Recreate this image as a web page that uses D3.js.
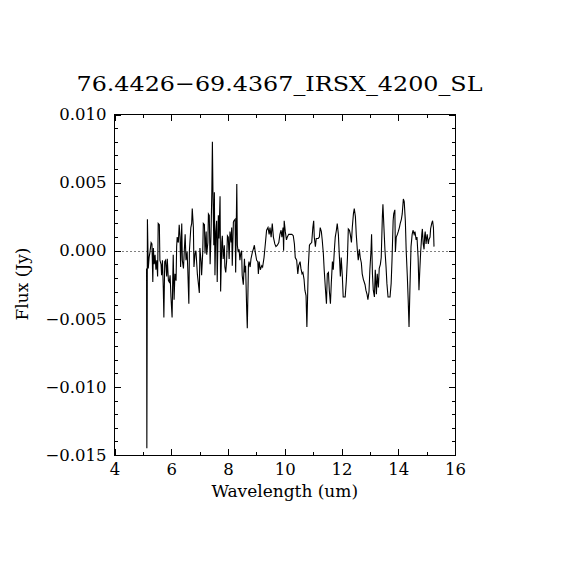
<!DOCTYPE html>
<head>
	<meta charset="utf-8">
	<style>
		body {margin: 0; background: #fff}
		text {font-family: "DejaVu Serif", serif; fill: #000}
	</style>
	<script src="https://d3js.org/d3.v7.min.js" charset="utf-8"></script>
</head>
<body>
	<script>
		// spectrum: wavelength (um) and flux (Jy)
		var wavelength = [
			5.13, 5.14, 5.16, 5.19, 5.22, 5.25, 5.29, 5.32, 5.35, 5.37, 5.40, 5.43, 5.46, 5.49, 5.52, 5.54,
			5.58, 5.60, 5.64, 5.66, 5.69, 5.72, 5.74, 5.77, 5.80, 5.84, 5.86, 5.90, 5.93, 5.96, 5.99, 6.03,
			6.05, 6.07, 6.10, 6.13, 6.17, 6.19, 6.21, 6.25, 6.28, 6.31, 6.33, 6.37, 6.39, 6.43, 6.46, 6.49,
			6.52, 6.56, 6.58, 6.62, 6.64, 6.69, 6.72, 6.74, 6.78, 6.80, 6.84, 6.87, 6.92, 6.95, 6.99,
			7.01, 7.05, 7.07, 7.11, 7.13, 7.17, 7.19, 7.23, 7.25, 7.29, 7.31, 7.34, 7.37, 7.40, 7.43, 7.45,
			7.47, 7.50, 7.52, 7.54, 7.57, 7.60, 7.62, 7.66, 7.68, 7.72, 7.74, 7.78, 7.80, 7.83, 7.87, 7.89,
			7.92, 7.95, 7.98, 8.01, 8.04, 8.07, 8.11, 8.13, 8.15, 8.19, 8.21, 8.25, 8.27, 8.31, 8.33, 8.36,
			8.39, 8.42, 8.45, 8.48, 8.50, 8.54, 8.58, 8.60, 8.62, 8.66, 8.68, 8.72, 8.74, 8.78, 8.81, 8.86,
			8.89, 8.93,
			8.96, 9.01, 9.05, 9.07, 9.10, 9.14, 9.19, 9.22, 9.27, 9.32, 9.36, 9.41, 9.45, 9.48, 9.52, 9.56,
			9.60, 9.65, 9.69, 9.74, 9.79, 9.83, 9.87, 9.90, 9.94, 9.96, 9.98, 10.02, 10.06, 10.09, 10.14, 10.19,
			10.25, 10.30, 10.34, 10.37, 10.42, 10.46, 10.49, 10.54, 10.57, 10.61, 10.64, 10.68, 10.71, 10.75, 10.78, 10.83,
			10.87,
			10.90, 10.95, 10.99, 11.02, 11.04, 11.08, 11.11, 11.15, 11.18, 11.22, 11.25, 11.29, 11.32, 11.36, 11.39, 11.43,
			11.47, 11.50, 11.54, 11.57, 11.61, 11.64, 11.68, 11.71, 11.75, 11.78, 11.82, 11.85, 11.89, 11.92, 11.96, 11.99,
			12.03, 12.06, 12.10, 12.13, 12.17, 12.21, 12.24, 12.28, 12.31, 12.35, 12.38, 12.42, 12.45, 12.49, 12.52, 12.56,
			12.59, 12.63, 12.66, 12.70, 12.73, 12.77, 12.80,
			12.83, 12.86, 12.90, 12.93, 12.97, 13.00, 13.04, 13.06, 13.09, 13.12, 13.16, 13.19, 13.23, 13.26, 13.30, 13.33,
			13.37, 13.40, 13.44, 13.46, 13.50, 13.53, 13.57, 13.60, 13.64, 13.67, 13.71, 13.75, 13.78, 13.82, 13.84, 13.88,
			13.90, 13.93, 13.97, 14.00, 14.04, 14.07, 14.11, 14.14, 14.18, 14.21, 14.25, 14.28, 14.32, 14.35, 14.38, 14.41,
			14.45, 14.49, 14.52, 14.56, 14.59, 14.63, 14.66, 14.70, 14.73,
			14.76, 14.79, 14.83, 14.85, 14.88, 14.91, 14.93, 14.95, 14.98, 15.00, 15.02, 15.06, 15.08, 15.12, 15.14, 15.18,
			15.21, 15.24, 15.26
		];
		var flux = [
			-0.0013, -0.0145, 0.0023, -0.0013, -0.0005, -0.0001, 0.0006, 0.0005, -0.0023, 0.0002, -0.0010, -0.0003, -0.0014, -0.0007, -0.0019, 0.0020,
			0.0019, -0.0007, -0.0010, -0.0018, -0.0007, -0.0028, -0.0049, -0.0008, -0.0007, -0.0019, -0.0006, -0.0022, -0.0023, -0.0018, -0.0034, -0.0049,
			-0.0024, -0.0003, -0.0036, -0.0017, -0.0022, 0.0003, 0.0010, 0.0006, 0.0019, 0.0010, -0.0012, 0.0020, -0.0007, -0.0013, 0.0000, 0.0012,
			-0.0007, -0.0001, -0.0012, -0.0039, 0.0000, 0.0017, 0.0020, 0.0031, 0.0017, -0.0012, -0.0002, 0.0000, -0.0017, -0.0023, -0.0031,
			0.0002, -0.0008, -0.0018, -0.0001, 0.0020, 0.0019, -0.0002, 0.0014, -0.0003, 0.0006, 0.0027, 0.0026, -0.0010, 0.0011, 0.0043, 0.0080,
			0.0042, 0.0004, 0.0043, -0.0018, 0.0014, 0.0022, -0.0023, 0.0026, 0.0009, 0.0040, -0.0030, 0.0006, 0.0011, -0.0006, 0.0004, -0.0012,
			-0.0016, -0.0008, 0.0011, 0.0010, -0.0006, 0.0014, 0.0006, 0.0017, -0.0011, 0.0021, 0.0022, 0.0023, -0.0016, 0.0049, 0.0004, -0.0001,
			0.0001, -0.0007, -0.0002, 0.0000, -0.0018, -0.0025, -0.0006, -0.0016, -0.0011, -0.0044, -0.0057, -0.0011, -0.0008, -0.0012, -0.0006, -0.0001,
			0.0001, 0.0004,
			-0.0001, -0.0007, -0.0008, -0.0017, -0.0008, -0.0014, -0.0011, -0.0012, -0.0005, 0.0006, 0.0015, 0.0017, 0.0012, 0.0017, 0.0010, 0.0020,
			0.0010, 0.0005, 0.0003, 0.0004, 0.0006, 0.0012, 0.0015, 0.0010, 0.0017, 0.0000, 0.0022, 0.0014, 0.0008, 0.0010, 0.0012, 0.0012,
			0.0012, 0.0011, 0.0005, -0.0005, -0.0007, -0.0017, -0.0011, -0.0008, -0.0013, -0.0017, -0.0016, -0.0021, -0.0029, -0.0033, -0.0056, -0.0012,
			0.0004,
			0.0005, 0.0006, 0.0017, 0.0022, 0.0010, 0.0003, 0.0009, 0.0009, 0.0009, 0.0010, 0.0017, 0.0014, 0.0008, -0.0002, -0.0014, -0.0027,
			-0.0039, -0.0017, -0.0016, -0.0029, -0.0039, -0.0024, -0.0008, -0.0014, 0.0001, 0.0010, 0.0015, 0.0020, 0.0012, -0.0002, -0.0019, -0.0005,
			-0.0019, -0.0034, -0.0034, -0.0034, -0.0022, -0.0005, 0.0016, 0.0015, 0.0012, 0.0006, 0.0017, 0.0027, 0.0031, 0.0025, 0.0012, 0.0000,
			-0.0007, 0.0001, -0.0005, -0.0009, -0.0017, -0.0021, -0.0023,
			-0.0025, -0.0029, -0.0032, -0.0036, -0.0030, -0.0014, 0.0000, 0.0012, -0.0017, -0.0029, -0.0034, -0.0014, -0.0032, -0.0017, -0.0027, -0.0013,
			-0.0010, -0.0005, 0.0025, 0.0034, 0.0015, 0.0001, -0.0012, -0.0024, -0.0034, -0.0034, -0.0034, -0.0024, -0.0007, 0.0022, 0.0027, 0.0030,
			-0.0001, 0.0010, 0.0012, 0.0014, 0.0017, 0.0020, 0.0023, 0.0027, 0.0038, 0.0036, 0.0022, 0.0000, -0.0019, -0.0036, -0.0056, -0.0029,
			0.0003, 0.0012, 0.0015, 0.0012, 0.0014, 0.0008, 0.0010, -0.0005, -0.0029,
			-0.0014, -0.0001, 0.0012, 0.0016, 0.0005, 0.0001, 0.0011, 0.0014, 0.0005, 0.0009, 0.0012, 0.0005, 0.0008, 0.0010, 0.0016, 0.0020,
			0.0022, 0.0017, 0.0003
		];

		var xTicks = [4, 6, 8, 10, 12, 14, 16],
			xMinor = [5, 7, 9, 11, 13, 15],
			yTicks = [-0.015, -0.010, -0.005, 0.000, 0.005, 0.010],
			yMinor = [-0.014, -0.013, -0.012, -0.011, -0.009, -0.008, -0.007, -0.006,
				-0.004, -0.003, -0.002, -0.001, 0.001, 0.002, 0.003, 0.004, 0.006, 0.007, 0.008, 0.009];

		var title = "76.4426\u221269.4367_IRSX_4200_SL",
			xLabel = "Wavelength (um)",
			yLabel = "Flux (Jy)";

		// plot box (note: "top" would clash with window.top)
		var box = {left: 114.5, right: 455, top: 114.5, bottom: 455},
			major = 6.5, minor = 3;

		var svg = d3.select("body").append("svg")
			.attr("width", 570)
			.attr("height", 570)
			.style("background", "#fff");

		var x = d3.scaleLinear().domain([4, 16]).range([box.left, box.right]);
		var y = d3.scaleLinear().domain([-0.015, 0.010]).range([box.bottom, box.top]);

		function styleAxis(g) {
			g.select(".domain").remove();
			g.selectAll("line").attr("stroke", "#000").attr("shape-rendering", "crispEdges");
			g.selectAll("text").attr("font-family", "DejaVu Serif").attr("font-size", "16.5px").attr("fill", "#000");
		}

		// bottom axis with labels
		svg.append("g")
			.attr("transform", "translate(0," + box.bottom + ")")
			.call(d3.axisBottom(x).tickValues(xTicks).tickSize(-major).tickPadding(8).tickFormat(d3.format("d")))
			.call(styleAxis);
		svg.append("g")
			.attr("transform", "translate(0," + box.bottom + ")")
			.call(d3.axisBottom(x).tickValues(xMinor).tickSize(-minor).tickFormat(""))
			.call(styleAxis);
		// top
		svg.append("g")
			.attr("transform", "translate(0," + box.top + ")")
			.call(d3.axisTop(x).tickValues(xTicks).tickSize(-major).tickFormat(""))
			.call(styleAxis);
		svg.append("g")
			.attr("transform", "translate(0," + box.top + ")")
			.call(d3.axisTop(x).tickValues(xMinor).tickSize(-minor).tickFormat(""))
			.call(styleAxis);
		// left with labels
		svg.append("g")
			.attr("transform", "translate(" + box.left + ",0)")
			.call(d3.axisLeft(y).tickValues(yTicks).tickSize(-major).tickPadding(8).tickFormat(d3.format(".3f")))
			.call(styleAxis);
		svg.append("g")
			.attr("transform", "translate(" + box.left + ",0)")
			.call(d3.axisLeft(y).tickValues(yMinor).tickSize(-minor).tickFormat(""))
			.call(styleAxis);
		// right
		svg.append("g")
			.attr("transform", "translate(" + box.right + ",0)")
			.call(d3.axisRight(y).tickValues(yTicks).tickSize(-major).tickFormat(""))
			.call(styleAxis);
		svg.append("g")
			.attr("transform", "translate(" + box.right + ",0)")
			.call(d3.axisRight(y).tickValues(yMinor).tickSize(-minor).tickFormat(""))
			.call(styleAxis);

		// frame
		svg.append("rect")
			.attr("x", box.left)
			.attr("y", box.top)
			.attr("width", box.right - box.left)
			.attr("height", box.bottom - box.top)
			.attr("fill", "none")
			.attr("stroke", "#000")
			.attr("shape-rendering", "crispEdges");

		// dotted zero line
		svg.append("line")
			.attr("x1", box.left)
			.attr("x2", box.right)
			.attr("y1", Math.round(y(0)) + 0.5)
			.attr("y2", Math.round(y(0)) + 0.5)
			.attr("stroke", "#000")
			.attr("stroke-dasharray", "1,3");

		var data = wavelength.map(function(d, i) {return {w: d, f: flux[i]};});

		var line = d3.line()
			.x(function(d) {return x(d.w);})
			.y(function(d) {return y(d.f);});

		svg.append("path")
			.datum(data)
			.attr("d", line)
			.attr("fill", "none")
			.attr("stroke", "#000")
			.attr("stroke-width", 1.1);

		// title and axis labels
		svg.append("text")
			.attr("x", (76 + 483) / 2)
			.attr("y", 91)
			.attr("text-anchor", "middle")
			.attr("font-size", "21px")
			.attr("textLength", 406)
			.attr("lengthAdjust", "spacingAndGlyphs")
			.text(title);

		svg.append("text")
			.attr("x", (box.left + box.right) / 2)
			.attr("y", 497)
			.attr("text-anchor", "middle")
			.attr("font-size", "17px")
			.text(xLabel);

		svg.append("text")
			.attr("transform", "translate(28,284) rotate(-90)")
			.attr("text-anchor", "middle")
			.attr("font-size", "17px")
			.text(yLabel);
	</script>
</body>
</html>
